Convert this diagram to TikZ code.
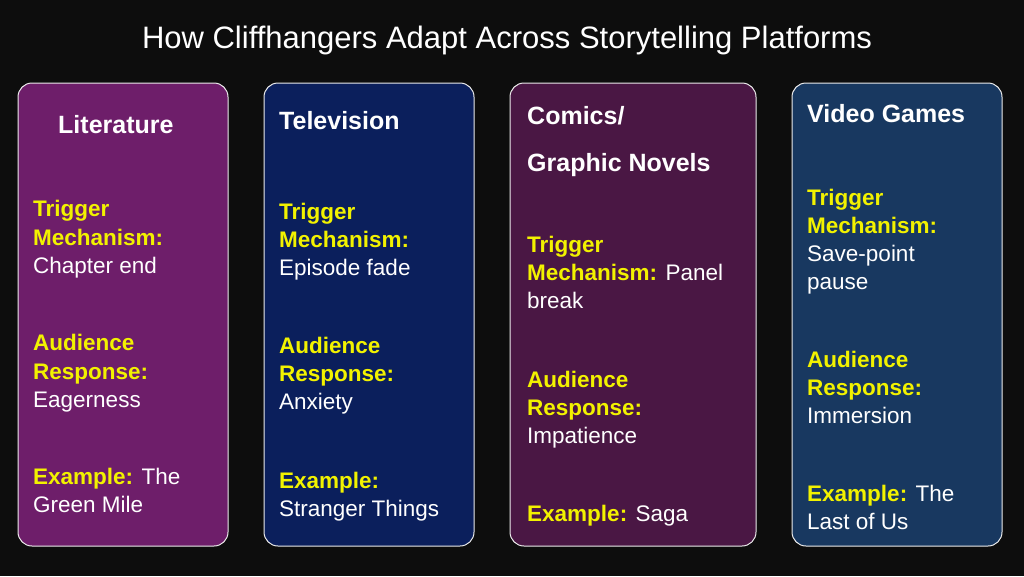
\documentclass[tikz,border=0pt]{standalone}
\usepackage{fontspec}
\setmainfont{Liberation Sans}
\definecolor{bg}{HTML}{0D0D0D}
\definecolor{cA}{HTML}{6E1E6A}
\definecolor{cB}{HTML}{0B1F5C}
\definecolor{cC}{HTML}{4A1744}
\definecolor{cD}{HTML}{183860}
\definecolor{yl}{HTML}{F2F200}
\newcommand{\ex}[1]{\textcolor{yl}{\bfseries #1}}
\begin{document}
\begin{tikzpicture}[x=1pt,y=-1pt,
  card/.style={draw=white!85!gray,line width=1pt,rounded corners=14pt},
  hd/.style={anchor=base west,text=white,font=\fontsize{25}{28}\selectfont\bfseries,inner sep=0},
  ky/.style={anchor=base west,text=yl,font=\fontsize{22.5}{26}\selectfont\bfseries,inner sep=0},
  tx/.style={anchor=base west,text=white,font=\fontsize{22.5}{26}\selectfont,inner sep=0}]
\fill[bg] (0,0) rectangle (1024,576);
\node[text=white,font=\fontsize{31}{34}\selectfont,inner sep=0] (title) at (507,40) {How Cliffhangers Adapt Across Storytelling Platforms};
\filldraw[card,fill=cA] (18,83) rectangle (228,546);
\filldraw[card,fill=cB] (264,83) rectangle (474,546);
\filldraw[card,fill=cC] (510,83) rectangle (756,546);
\filldraw[card,fill=cD] (792,83) rectangle (1002,546);
% col 1
\node[hd] (h1) at (58,133) {Literature};
\node[ky] (a1) at (33,216) {Trigger};
\node[ky] (a2) at (33,245) {Mechanism:};
\node[tx] (a3) at (33,273) {Chapter end};
\node[ky] (a4) at (33,350) {Audience};
\node[ky] (a5) at (33,379) {Response:};
\node[tx] (a6) at (33,407) {Eagerness};
\node[tx] (a7) at (33,484) {\ex{Example:} The};
\node[tx] (a8) at (33,512) {Green Mile};
% col 2
\node[hd] (h2) at (279,129) {Television};
\node[ky] (b1) at (279,219) {Trigger};
\node[ky] (b2) at (279,247) {Mechanism:};
\node[tx] (b3) at (279,275) {Episode fade};
\node[ky] (b4) at (279,353) {Audience};
\node[ky] (b5) at (279,381) {Response:};
\node[tx] (b6) at (279,409) {Anxiety};
\node[ky] (b7) at (279,488) {Example:};
\node[tx] (b8) at (279,516) {Stranger Things};
% col 3
\node[hd] (h3) at (527,124) {Comics/};
\node[hd] (h3b) at (527,171) {Graphic Novels};
\node[ky] (c1) at (527,252) {Trigger};
\node[tx] (c2) at (527,280) {\ex{Mechanism:} Panel};
\node[tx] (c3) at (527,308) {break};
\node[ky] (c4) at (527,387) {Audience};
\node[ky] (c5) at (527,415) {Response:};
\node[tx] (c6) at (527,443) {Impatience};
\node[tx] (c7) at (527,521) {\ex{Example:} Saga};
% col 4
\node[hd] (h4) at (807,122) {Video Games};
\node[ky] (d1) at (807,205) {Trigger};
\node[ky] (d2) at (807,233) {Mechanism:};
\node[tx] (d3) at (807,261) {Save-point};
\node[tx] (d4) at (807,289) {pause};
\node[ky] (d5) at (807,367) {Audience};
\node[ky] (d6) at (807,395) {Response:};
\node[tx] (d7) at (807,423) {Immersion};
\node[tx] (d8) at (807,501) {\ex{Example:} The};
\node[tx] (d9) at (807,529) {Last of Us};
\end{tikzpicture}
\end{document}
